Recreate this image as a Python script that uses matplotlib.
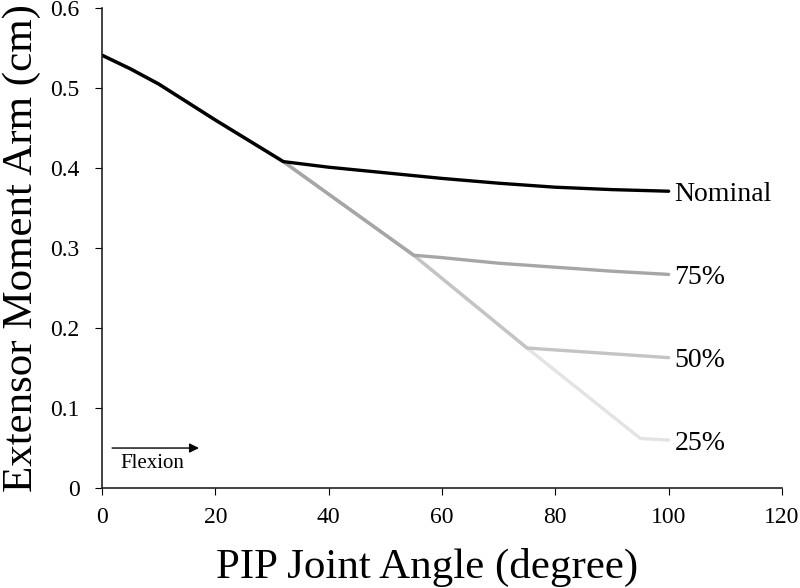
import matplotlib.pyplot as plt

plt.rcParams["font.family"] = ["Liberation Serif", "DejaVu Serif"]

# shared curve up to the first branch point
angle_base = [0, 5, 10, 20, 32]
arm_base = [0.541, 0.524, 0.505, 0.460, 0.408]

angle_nominal = [40, 50, 60, 70, 80, 90, 100]
arm_nominal = [0.401, 0.394, 0.387, 0.381, 0.376, 0.373, 0.371]

angle_75 = [55, 60, 70, 80, 90, 100]
arm_75 = [0.291, 0.288, 0.281, 0.276, 0.271, 0.267]

angle_50 = [75, 100]
arm_50 = [0.175, 0.163]

angle_25 = [95, 100]
arm_25 = [0.062, 0.060]

series = {
    "25%": (angle_base + angle_75[:1] + angle_50[:1] + angle_25,
            arm_base + arm_75[:1] + arm_50[:1] + arm_25, "#e3e3e3"),
    "50%": (angle_base + angle_75[:1] + angle_50,
            arm_base + arm_75[:1] + arm_50, "#c4c4c4"),
    "75%": (angle_base + angle_75, arm_base + arm_75, "#a6a6a6"),
    "Nominal": (angle_base + angle_nominal, arm_base + arm_nominal, "#000000"),
}

fig = plt.figure(figsize=(8, 5.88), dpi=100)
ax = fig.add_axes([0.1275, 0.170, 0.85, 0.8164])

for name, (x, y, color) in series.items():
    ax.plot(x, y, color=color, lw=2.4, solid_capstyle="round", solid_joinstyle="round")
    ax.text(x[-1] + 1.0, y[-1] - 0.004, name, fontsize=20, va="center", ha="left")

ax.set_xlim(0, 120)
ax.set_ylim(0, 0.6)
ax.set_xticks(range(0, 121, 20))
ax.set_yticks([0, 0.1, 0.2, 0.3, 0.4, 0.5, 0.6])
ax.set_yticklabels(["0", "0.1", "0.2", "0.3", "0.4", "0.5", "0.6"])
ax.tick_params(axis="x", direction="out", length=5, labelsize=17, pad=9)
ax.tick_params(axis="y", direction="out", length=5, labelsize=17, pad=11)
for side in ["top", "right"]:
    ax.spines[side].set_visible(False)
for side in ["left", "bottom"]:
    ax.spines[side].set_color("#222222")
    ax.spines[side].set_linewidth(1.2)

ax.set_xlabel("PIP Joint Angle (degree)", fontsize=31)
ax.xaxis.set_label_coords(0.478, -0.125)
ax.xaxis.label.set_va("top")
ax.set_ylabel("Extensor Moment Arm (cm)", fontsize=31)
ax.yaxis.set_label_coords(-0.089, 0.5)

ax.annotate("", xy=(17.6, 0.05), xytext=(1.3, 0.05),
            arrowprops=dict(arrowstyle="-|>", color="black", lw=1, mutation_scale=14))
ax.text(3.3, 0.031, "Flexion", fontsize=15, va="center", ha="left")

fig.savefig("out.png")
